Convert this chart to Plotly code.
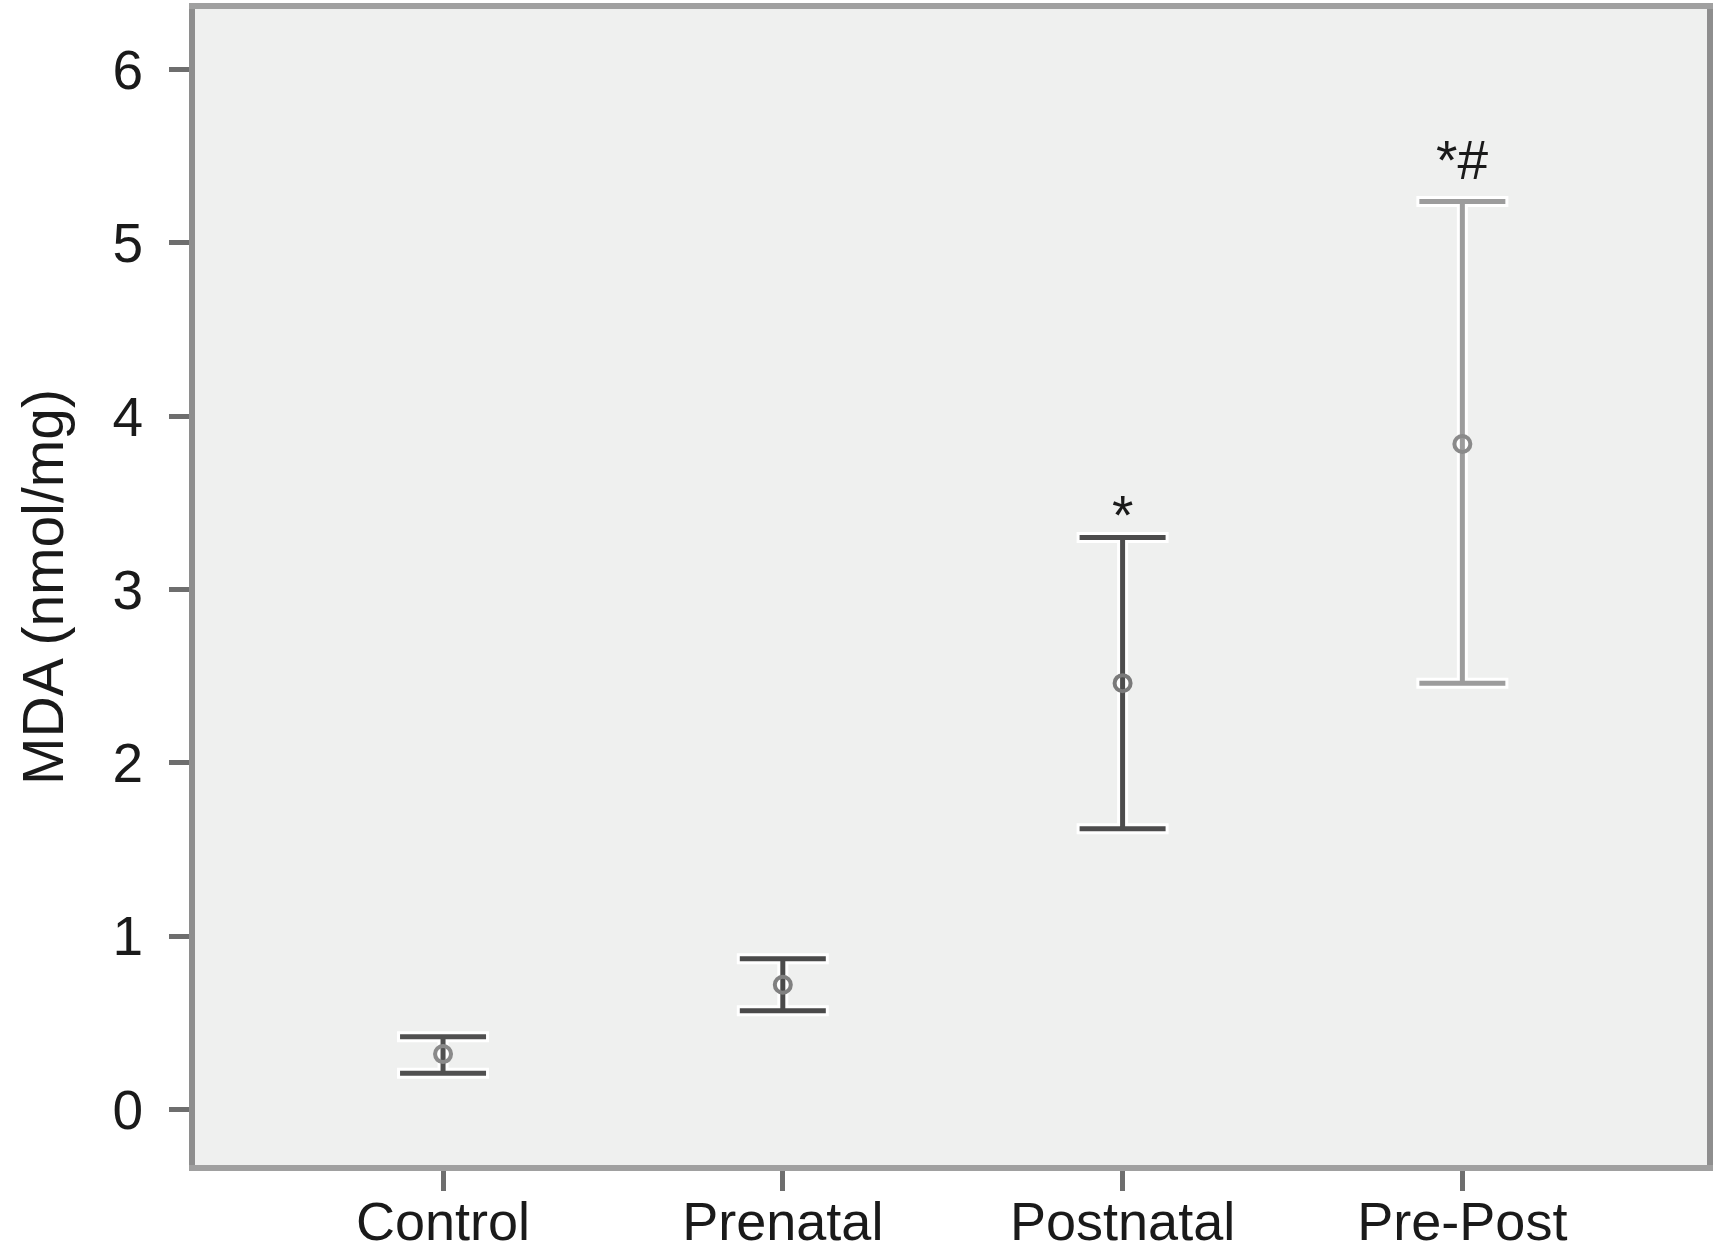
import plotly.graph_objects as go

groups = ["Control", "Prenatal", "Postnatal", "Pre-Post"]
means = [0.32, 0.72, 2.46, 3.84]
upper = [0.42, 0.87, 3.30, 5.24]
lower = [0.21, 0.57, 1.62, 2.46]
sig_labels = ["", "", "*", "*#"]
y_ticks = [0, 1, 2, 3, 4, 5, 6]

bar_colors = ["#505050", "#4a4a4a", "#4c4c4c", "#9c9c9c"]
marker_colors = ["#8a8a8a", "#808080", "#7a7a7a", "#8a8a8a"]

FONT = "Liberation Sans, Arial, sans-serif"

fig = go.Figure()

for i, g in enumerate(groups):
    plus = [upper[i] - means[i]]
    minus = [means[i] - lower[i]]
    # white halo underlay
    fig.add_trace(go.Scatter(
        x=[g], y=[means[i]], mode="markers",
        marker=dict(size=1, color="rgba(0,0,0,0)"),
        error_y=dict(type="data", symmetric=False, array=plus, arrayminus=minus,
                     color="#ffffff", thickness=11, width=46),
        showlegend=False, hoverinfo="skip"))
    fig.add_trace(go.Scatter(
        x=[g], y=[means[i]], mode="markers",
        marker=dict(symbol="circle-open", size=16, color=marker_colors[i],
                    line=dict(width=4, color=marker_colors[i])),
        error_y=dict(type="data", symmetric=False, array=plus, arrayminus=minus,
                     color=bar_colors[i], thickness=5, width=43),
        showlegend=False, name=g))

for i, g in enumerate(groups):
    if sig_labels[i]:
        fig.add_annotation(x=g, y=upper[i], text=sig_labels[i], showarrow=False,
                           yanchor="bottom",
                           yshift=(-10 if len(sig_labels[i]) == 1 else 8),
                           font=dict(family=FONT, size=55, color="#1a1a1a"))

fig.update_layout(
    width=1721, height=1251,
    margin=dict(l=195, r=14, t=9, b=86),
    paper_bgcolor="#ffffff",
    plot_bgcolor="#eff0ef",
    font=dict(family=FONT, size=55, color="#1a1a1a"),
    xaxis=dict(
        type="category", categoryorder="array", categoryarray=groups,
        range=[-0.73, 3.72], automargin=False,
        showline=True, mirror=True, linecolor="#a0a0a0", linewidth=6,
        ticks="outside", ticklen=20, tickwidth=5, tickcolor="#6e6e6e",
        showgrid=False, zeroline=False,
        ticklabelstandoff=-16,
        tickfont=dict(family=FONT, size=54, color="#1a1a1a"),
    ),
    yaxis=dict(
        range=[-0.32, 6.35], automargin=False,
        tickvals=y_ticks, ticktext=[str(v) for v in y_ticks],
        showline=True, mirror=True, linecolor="#8e8e8e", linewidth=6,
        ticks="outside", ticklen=20, tickwidth=5, tickcolor="#6e6e6e",
        showgrid=False, zeroline=False,
        tickfont=dict(family=FONT, size=55, color="#1a1a1a"),
        ticklabelstandoff=15,
        title=dict(text="MDA (nmol/mg)", standoff=32,
                   font=dict(family=FONT, size=57, color="#1a1a1a")),
    ),
)

fig.write_html("out.html")
